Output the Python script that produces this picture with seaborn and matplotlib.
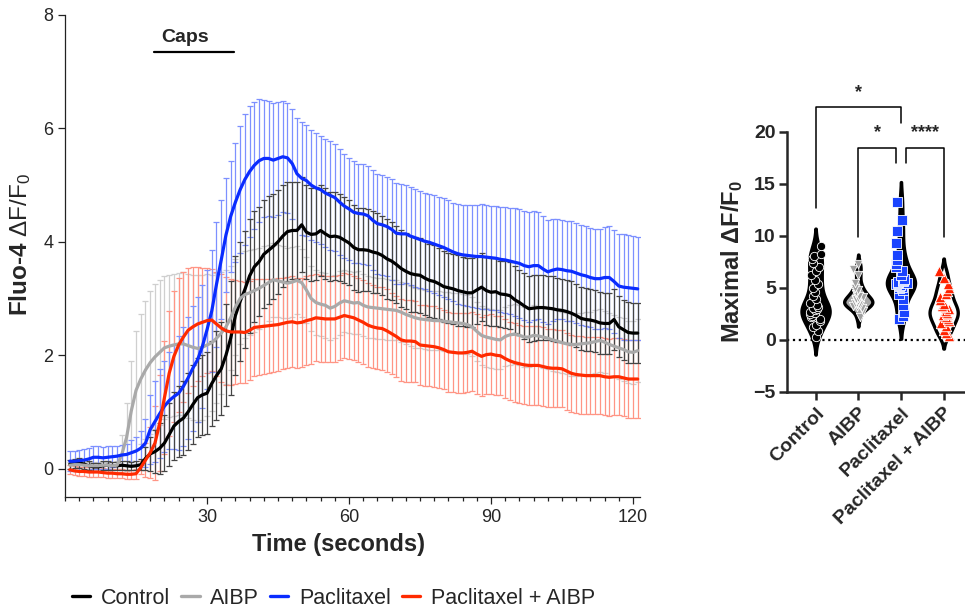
import numpy as np
import pandas as pd
import seaborn as sns
import matplotlib.pyplot as plt
from matplotlib.ticker import MultipleLocator
from matplotlib.lines import Line2D

sns.set_style('ticks')
plt.rcParams['font.family'] = ['Liberation Sans', 'DejaVu Sans']
plt.rcParams['mathtext.fontset'] = 'custom'
plt.rcParams['mathtext.rm'] = 'Liberation Sans'
plt.rcParams['mathtext.bf'] = 'Liberation Sans:bold'
np.random.seed(3)

# ---- time course data (mean and error, one value per second) ----
time_s = list(range(1, 122))

control = [0.08, 0.09, 0.10, 0.08, 0.05, 0.03, 0.03, 0.05, 0.06, 0.05,
           0.05, 0.06, 0.05, 0.04, 0.05, 0.07, 0.18, 0.26, 0.30, 0.36,
           0.45, 0.60, 0.75, 0.83, 0.89, 1.00, 1.13, 1.25, 1.30, 1.33,
           1.50, 1.64, 1.76, 2.00, 2.30, 2.70, 2.95, 3.16, 3.40, 3.56,
           3.65, 3.78, 3.85, 3.92, 4.00, 4.10, 4.18, 4.20, 4.20, 4.30,
           4.17, 4.13, 4.14, 4.20, 4.14, 4.09, 4.10, 4.08, 4.03, 3.98,
           3.90, 3.86, 3.86, 3.85, 3.82, 3.80, 3.76, 3.70, 3.66, 3.60,
           3.53, 3.48, 3.44, 3.42, 3.41, 3.36, 3.32, 3.30, 3.26, 3.21,
           3.19, 3.17, 3.14, 3.12, 3.10, 3.10, 3.15, 3.20, 3.14, 3.11,
           3.12, 3.08, 3.07, 3.05, 2.98, 2.93, 2.87, 2.82, 2.83, 2.84,
           2.84, 2.83, 2.82, 2.80, 2.79, 2.77, 2.74, 2.70, 2.65, 2.63,
           2.62, 2.60, 2.57, 2.56, 2.56, 2.63, 2.50, 2.45, 2.40, 2.39,
           2.39]
aibp = [0.06, 0.07, 0.07, 0.06, 0.05, 0.05, 0.05, 0.06, 0.06, 0.05,
        0.06, 0.25, 0.55, 1.02, 1.38, 1.58, 1.74, 1.87, 1.97, 2.05,
        2.13, 2.16, 2.18, 2.20, 2.20, 2.17, 2.14, 2.12, 2.14, 2.18,
        2.22, 2.30, 2.39, 2.50, 2.66, 2.85, 3.00, 3.07, 3.10, 3.14,
        3.18, 3.23, 3.28, 3.33, 3.31, 3.29, 3.27, 3.29, 3.32, 3.28,
        3.15, 3.00, 2.93, 2.90, 2.88, 2.83, 2.86, 2.92, 2.96, 2.94,
        2.92, 2.93, 2.88, 2.85, 2.84, 2.83, 2.82, 2.81, 2.80, 2.79,
        2.76, 2.72, 2.69, 2.66, 2.64, 2.63, 2.62, 2.61, 2.61, 2.60,
        2.59, 2.58, 2.57, 2.56, 2.54, 2.50, 2.42, 2.35, 2.32, 2.30,
        2.28, 2.27, 2.33, 2.36, 2.37, 2.35, 2.32, 2.32, 2.35, 2.34,
        2.32, 2.30, 2.27, 2.25, 2.22, 2.20, 2.19, 2.19, 2.20, 2.21,
        2.22, 2.24, 2.26, 2.23, 2.19, 2.16, 2.13, 2.10, 2.06, 2.05,
        2.08]
paclitaxel = [0.13, 0.13, 0.14, 0.15, 0.17, 0.20, 0.20, 0.19, 0.20, 0.21,
              0.22, 0.24, 0.25, 0.28, 0.31, 0.36, 0.45, 0.69, 0.83, 0.97,
              1.10, 1.20, 1.27, 1.33, 1.45, 1.60, 1.77, 1.92, 2.15, 2.45,
              2.78, 3.25, 3.68, 4.12, 4.45, 4.70, 4.92, 5.10, 5.24, 5.35,
              5.43, 5.47, 5.47, 5.44, 5.47, 5.50, 5.48, 5.38, 5.20, 5.12,
              5.08, 5.00, 4.95, 4.92, 4.86, 4.82, 4.78, 4.70, 4.63, 4.58,
              4.52, 4.50, 4.49, 4.46, 4.38, 4.32, 4.30, 4.27, 4.22, 4.15,
              4.14, 4.14, 4.10, 4.07, 4.04, 4.01, 3.99, 3.96, 3.93, 3.90,
              3.86, 3.82, 3.79, 3.77, 3.76, 3.75, 3.74, 3.74, 3.73, 3.72,
              3.71, 3.69, 3.68, 3.66, 3.64, 3.62, 3.58, 3.56, 3.58, 3.58,
              3.52, 3.47, 3.50, 3.52, 3.51, 3.49, 3.48, 3.45, 3.42, 3.40,
              3.37, 3.35, 3.35, 3.37, 3.37, 3.30, 3.22, 3.20, 3.19, 3.18,
              3.17]
pac_aibp = [-0.02, -0.04, -0.05, -0.05, -0.06, -0.06, -0.06, -0.07, -0.08, -0.08,
            -0.09, -0.09, -0.10, -0.10, -0.09, 0.02, 0.15, 0.28, 0.45, 0.80,
            1.25, 1.68, 1.98, 2.18, 2.32, 2.44, 2.50, 2.55, 2.58, 2.61,
            2.62, 2.55, 2.48, 2.43, 2.41, 2.41, 2.41, 2.40, 2.44, 2.49,
            2.50, 2.51, 2.52, 2.53, 2.54, 2.56, 2.58, 2.59, 2.57, 2.58,
            2.61, 2.63, 2.66, 2.65, 2.64, 2.64, 2.64, 2.67, 2.70, 2.68,
            2.66, 2.62, 2.58, 2.53, 2.50, 2.48, 2.47, 2.43, 2.38, 2.33,
            2.27, 2.25, 2.25, 2.24, 2.18, 2.17, 2.16, 2.15, 2.13, 2.10,
            2.06, 2.05, 2.04, 2.04, 2.05, 2.07, 2.02, 1.98, 2.01, 2.02,
            2.00, 1.99, 1.94, 1.90, 1.87, 1.85, 1.83, 1.82, 1.82, 1.82,
            1.80, 1.78, 1.77, 1.77, 1.76, 1.72, 1.68, 1.66, 1.65, 1.64,
            1.64, 1.64, 1.64, 1.62, 1.61, 1.62, 1.62, 1.60, 1.58, 1.58,
            1.58]

control_err = [0.08, 0.08, 0.09, 0.08, 0.08, 0.07, 0.07, 0.08, 0.08, 0.07,
               0.07, 0.08, 0.08, 0.07, 0.08, 0.10, 0.20, 0.30, 0.38, 0.45,
               0.50, 0.55, 0.60, 0.63, 0.65, 0.68, 0.70, 0.70, 0.71, 0.72,
               0.75, 0.78, 0.82, 0.90, 1.00, 1.05, 1.05, 1.03, 1.00, 0.98,
               0.96, 0.95, 0.95, 0.93, 0.92, 0.90, 0.88, 0.86, 0.85, 0.84,
               0.83, 0.82, 0.82, 0.80, 0.80, 0.79, 0.78, 0.77, 0.76, 0.75,
               0.75, 0.74, 0.73, 0.72, 0.72, 0.71, 0.70, 0.70, 0.69, 0.68,
               0.68, 0.67, 0.67, 0.66, 0.66, 0.65, 0.65, 0.64, 0.63, 0.63,
               0.62, 0.62, 0.62, 0.61, 0.61, 0.61, 0.60, 0.60, 0.60, 0.60,
               0.60, 0.59, 0.59, 0.59, 0.59, 0.58, 0.58, 0.58, 0.58, 0.58,
               0.57, 0.57, 0.57, 0.56, 0.56, 0.56, 0.56, 0.55, 0.55, 0.55,
               0.55, 0.55, 0.54, 0.54, 0.54, 0.54, 0.54, 0.53, 0.53, 0.53,
               0.53]
aibp_err = [0.06, 0.06, 0.06, 0.06, 0.06, 0.06, 0.06, 0.06, 0.06, 0.06,
            0.07, 0.35, 0.60, 0.88, 1.05, 1.15, 1.22, 1.26, 1.28, 1.28,
            1.26, 1.25, 1.25, 1.25, 1.26, 1.27, 1.28, 1.30, 1.28, 1.25,
            1.20, 1.15, 1.08, 1.00, 0.92, 0.85, 0.80, 0.77, 0.75, 0.73,
            0.71, 0.69, 0.67, 0.65, 0.64, 0.63, 0.62, 0.61, 0.60, 0.60,
            0.59, 0.58, 0.58, 0.57, 0.57, 0.56, 0.56, 0.56, 0.55, 0.55,
            0.55, 0.55, 0.55, 0.54, 0.54, 0.54, 0.54, 0.54, 0.53, 0.53,
            0.53, 0.53, 0.53, 0.53, 0.52, 0.52, 0.52, 0.52, 0.52, 0.52,
            0.52, 0.52, 0.52, 0.52, 0.52, 0.52, 0.52, 0.52, 0.52, 0.52,
            0.52, 0.52, 0.52, 0.53, 0.53, 0.53, 0.53, 0.53, 0.53, 0.53,
            0.54, 0.54, 0.54, 0.54, 0.54, 0.54, 0.55, 0.55, 0.55, 0.55,
            0.55, 0.55, 0.55, 0.55, 0.55, 0.55, 0.55, 0.55, 0.55, 0.55,
            0.55]
paclitaxel_err = [0.18, 0.18, 0.19, 0.19, 0.19, 0.20, 0.20, 0.20, 0.20, 0.19,
                  0.18, 0.18, 0.19, 0.22, 0.25, 0.30, 0.42, 0.60, 0.72, 0.78,
                  0.80, 0.85, 0.92, 1.00, 1.05, 1.08, 1.10, 1.10, 1.08, 1.05,
                  1.08, 1.10, 1.05, 1.00, 0.98, 1.05, 1.12, 1.15, 1.15, 1.12,
                  1.08, 1.03, 1.02, 1.01, 1.00, 0.98, 0.97, 0.97, 0.98, 1.00,
                  0.98, 0.97, 0.96, 0.95, 0.95, 0.96, 0.95, 0.93, 0.91, 0.90,
                  0.90, 0.88, 0.88, 0.87, 0.88, 0.88, 0.88, 0.88, 0.89, 0.89,
                  0.88, 0.87, 0.86, 0.86, 0.85, 0.85, 0.86, 0.86, 0.86, 0.87,
                  0.87, 0.87, 0.88, 0.88, 0.89, 0.90, 0.91, 0.92, 0.92, 0.92,
                  0.92, 0.93, 0.93, 0.94, 0.95, 0.96, 0.96, 0.97, 0.96, 0.95,
                  0.93, 0.92, 0.90, 0.89, 0.88, 0.88, 0.88, 0.88, 0.88, 0.88,
                  0.88, 0.88, 0.88, 0.89, 0.90, 0.91, 0.92, 0.93, 0.93, 0.92,
                  0.91]
pac_aibp_err = [0.08, 0.08, 0.08, 0.08, 0.08, 0.08, 0.08, 0.08, 0.08, 0.08,
                0.08, 0.08, 0.08, 0.08, 0.09, 0.12, 0.30, 0.45, 0.65, 0.85,
                1.00, 1.10, 1.15, 1.18, 1.15, 1.10, 1.05, 1.00, 0.95, 0.92,
                0.90, 0.92, 0.95, 0.95, 0.93, 0.91, 0.90, 0.89, 0.87, 0.86,
                0.85, 0.84, 0.83, 0.82, 0.82, 0.81, 0.80, 0.80, 0.79, 0.79,
                0.78, 0.78, 0.77, 0.77, 0.76, 0.76, 0.76, 0.75, 0.75, 0.75,
                0.74, 0.74, 0.74, 0.74, 0.73, 0.73, 0.73, 0.73, 0.72, 0.72,
                0.72, 0.72, 0.72, 0.71, 0.71, 0.71, 0.71, 0.71, 0.70, 0.70,
                0.70, 0.70, 0.70, 0.70, 0.70, 0.70, 0.70, 0.70, 0.70, 0.70,
                0.70, 0.70, 0.70, 0.69, 0.69, 0.69, 0.69, 0.69, 0.69, 0.69,
                0.69, 0.69, 0.69, 0.68, 0.68, 0.68, 0.68, 0.68, 0.68, 0.68,
                0.68, 0.68, 0.68, 0.68, 0.68, 0.68, 0.68, 0.68, 0.68, 0.68,
                0.68]

groups = ['Control', 'AIBP', 'Paclitaxel', 'Paclitaxel + AIBP']
line_colors = ['#000000', '#a9a9a9', '#0a2cff', '#ff2a00']
bar_colors = ['#454545', '#cfcfcf', '#7d90ff', '#ff9585']

# ---- maximal response per cell ----
max_control = [0.3, 0.9, 1.2, 1.4, 1.8, 2.0, 2.2, 2.3, 2.5, 2.6, 2.7, 2.9, 3.0,
               3.1, 3.2, 3.4, 3.6, 3.9, 4.2, 4.6, 5.0, 5.4, 5.8, 6.2, 6.6, 7.0,
               7.4, 7.8, 8.1, 8.3, 9.0]
max_aibp = [2.2, 2.8, 3.1, 3.2, 3.3, 3.4, 3.5, 3.5, 3.6, 3.6, 3.7, 3.8, 3.9,
            4.0, 4.1, 4.2, 4.4, 4.6, 4.8, 5.0, 5.5, 6.2, 6.8, 7.3]
max_paclitaxel = [2.0, 2.3, 2.7, 3.4, 3.9, 4.4, 4.8, 5.0, 5.1, 5.2, 5.3, 5.4,
                  5.5, 5.5, 5.6, 5.7, 5.8, 5.9, 6.2, 6.6, 7.0, 7.3, 7.7, 8.2,
                  9.3, 10.5, 11.5, 13.3]
max_pac_aibp = [0.4, 0.7, 1.0, 1.3, 1.6, 1.8, 2.0, 2.2, 2.4, 2.5, 2.6, 2.8,
                3.0, 3.2, 3.3, 3.5, 3.8, 4.1, 4.4, 4.7, 5.0, 5.4, 6.0, 6.6]

violin_fill = ['black', '#a9a9a9', 'black', 'white']
point_colors = ['black', '#a0a0a0', '#1a44ff', '#ff2200']
point_markers = ['o', 'v', 's', '^']
point_sizes = [6, 6, 7, 7.5]

fig = plt.figure(figsize=(9.65, 6.14), dpi=100)
ax1 = fig.add_axes([0.0674, 0.1906, 0.5959, 0.785])
ax2 = fig.add_axes([0.8155, 0.3616, 0.1845, 0.4235])

# ---- left: time course ----
means = [control, aibp, paclitaxel, pac_aibp]
errs = [control_err, aibp_err, paclitaxel_err, pac_aibp_err]
for i in [1, 3, 2, 0]:
    ax1.errorbar(time_s, means[i], yerr=errs[i], fmt='none', ecolor=bar_colors[i],
                 elinewidth=0.9, capsize=2.2, capthick=0.9, zorder=1)

ts = pd.DataFrame({
    'time': time_s * 4,
    'value': control + aibp + paclitaxel + pac_aibp,
    'group': sum([[g] * len(time_s) for g in groups], []),
})
sns.lineplot(data=ts, x='time', y='value', hue='group', hue_order=groups,
             palette=line_colors, linewidth=2.3, legend=False, ax=ax1, zorder=3)

ax1.set_xlim(0, 121.5)
ax1.set_ylim(-0.5, 8)
ax1.set_xticks([30, 60, 90, 120])
ax1.xaxis.set_minor_locator(MultipleLocator(3))
ax1.set_yticks([0, 2, 4, 6, 8])
ax1.tick_params(axis='both', which='major', labelsize=13, length=5, width=0.9,
                color='#222222')
ax1.tick_params(axis='x', which='minor', length=3, width=0.9, color='#222222')
for s in ['left', 'bottom']:
    ax1.spines[s].set_linewidth(0.9)
    ax1.spines[s].set_color('#222222')
sns.despine(ax=ax1)
ax1.set_xlabel('Time (seconds)', fontsize=17, fontweight='bold')
ax1.xaxis.set_label_coords(0.475, -0.075)
ax1.set_ylabel(r'Fluo-4 $\mathrm{\Delta F/F_0}$', fontsize=17.5,
               fontweight='bold')
ax1.yaxis.set_label_coords(-0.055, 0.523)

ax1.plot([18.8, 35.7], [7.35, 7.35], color='black', lw=1.6, clip_on=False)
ax1.text(20.4, 7.45, 'Caps', fontsize=14, fontweight='bold', ha='left',
         va='bottom')

handles = [Line2D([0], [0], color=c, lw=2.4) for c in line_colors]
fig.legend(handles, groups, loc='center', bbox_to_anchor=(0.3456, 0.026),
           ncol=4, frameon=False, handlelength=0.85, handletextpad=0.5,
           columnspacing=0.5,
           prop={'family': ['Liberation Sans Narrow', 'Liberation Sans'],
                 'size': 15.5})

# ---- right: violin plot ----
max_vals = [max_control, max_aibp, max_paclitaxel, max_pac_aibp]
vdf = pd.DataFrame({
    'group': sum([[g] * len(v) for g, v in zip(groups, max_vals)], []),
    'value': sum(max_vals, []),
})
sns.violinplot(data=vdf, x='group', y='value', hue='group', order=groups,
               hue_order=groups, palette=violin_fill, linecolor='black',
               linewidth=2.4, inner=None, density_norm='width', width=0.66,
               bw_adjust=0.7, cut=2, legend=False, ax=ax2)
for g, v, c, mk, sz in zip(groups, max_vals, point_colors, point_markers,
                           point_sizes):
    sns.stripplot(x=[g] * len(v), y=v, order=groups, color=c, marker=mk,
                  size=sz, jitter=0.14, edgecolor='white', linewidth=0.6,
                  ax=ax2)

ax2.axhline(0, color='black', ls=':', lw=1.6, zorder=0)
ax2.set_xlim(-0.67, 3.5)
ax2.set_ylim(-5, 20)
ax2.set_yticks([-5, 0, 5, 10, 15, 20])
ax2.set_xticks(range(4))
ax2.set_xticklabels(groups, rotation=45, ha='right', rotation_mode='anchor',
                    fontsize=14, fontweight='bold')
for lab in ax2.get_yticklabels():
    lab.set_fontweight('bold')
ax2.tick_params(axis='y', labelsize=14, length=6, width=1.8, pad=2)
ax2.tick_params(axis='x', length=6, width=1.8, pad=3)
for s in ['left', 'bottom']:
    ax2.spines[s].set_linewidth(1.8)
sns.despine(ax=ax2)
ax2.set_xlabel('')
ax2.set_ylabel(r'Maximal $\mathbf{\Delta F/F_0}$', fontsize=17,
               fontweight='bold', labelpad=6)

# significance brackets
brackets = [(0, 2, 22.4, 12.7, 20.9, '*', 23.0),
            (1, 1.88, 18.5, 9.9, 17.0, '*', 19.1),
            (2.11, 3, 18.5, 17.0, 9.9, '****', 19.1)]
for x0, x1, ytop, yl, yr, lab, ys in brackets:
    ax2.plot([x0, x0, x1, x1], [yl, ytop, ytop, yr], color='black', lw=1.1,
             clip_on=False)
    ax2.text((x0 + x1) / 2, ys, lab, ha='center', va='bottom', fontsize=13,
             fontweight='bold', clip_on=False)

fig.savefig('out.png', dpi=100)
